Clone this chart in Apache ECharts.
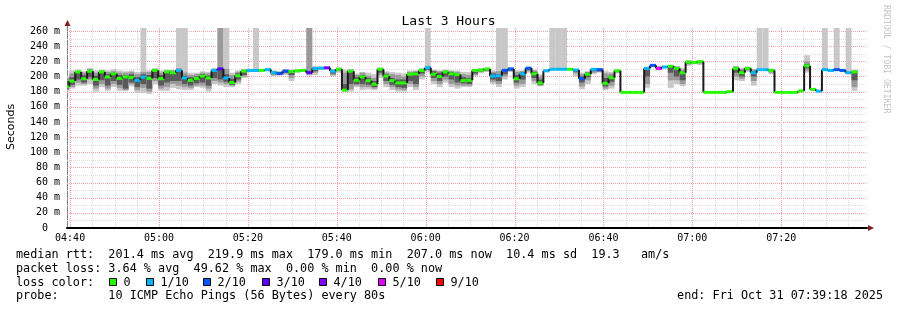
<!DOCTYPE html>
<html><head><meta charset="utf-8">
<script src="https://cdn.jsdelivr.net/npm/echarts@6/dist/echarts.min.js"></script>
<style>html,body{margin:0;padding:0;background:#fff}#c{width:897px;height:310px}</style>
</head><body><div id="c"></div>
<script>
// ---- axis (minutes relative to 04:40) ----
const xMin = -0.7;            // 04:39:18
const xMax = 179.3;           // 07:39:18
const firstStepBoundary = -0.18; // first full 80 s step starts here
const stepMinutes = 80 / 60;
const xLabelValues = [0, 20, 40, 60, 80, 100, 120, 140, 160];
const xLabelTexts = ['04:40', '05:00', '05:20', '05:40', '06:00', '06:20', '06:40', '07:00', '07:20'];
const xMinorGrid = [5,10,15,25,30,35,45,50,55,65,70,75,85,90,95,105,110,115,125,130,135,145,150,155,165,170,175];
const yMajorGrid = [20,40,60,80,100,120,140,160,180,200,220,240,260];
const yMinorGrid = [10,30,50,70,90,110,130,150,170,190,210,230,250];
const yMax = 264;

// ---- median RTT per 80 s step (ms) ----
const median = [
 187,194,206,197,207,196,206,199.5,203.5,197.5,
 199.5,198.5,195,199,197.5,208,197,206,205,208,
 198,195,197.5,200.5,198,208,210,198,192,201,
 207,208,208,208,209,205,204,207,206.5,207.5,
 208,205,210.5,211,211.5,207,209.5,182,207,195,
 199.5,194.5,190,209.5,200.5,194.5,191.5,191.5,203,203.5,
 208,211.5,203,200,206,203.5,202.5,194.5,195,208,
 208.5,210,200.5,201,208,210,197,203.5,211,203.5,
 191.5,207.5,209.5,209.5,209.5,209.5,208.6,197,203,209.4,
 209,191,198.4,207.6,179,179,179,179,210.7,214.7,
 210.7,212.5,213.5,210.7,205,219,218.5,219.6,179,179,
 179,179,180,210.7,205,210.7,205,209,209,208,
 179,179,179,179,181,214,183,180.6,209,208,
 209,208,205,206
];
// ---- lost pings out of 10 per step ----
const lossCount = [
 0,0,0,0,0,0,0,0,0,0,
 0,0,1,1,0,0,0,0,0,1,
 1,0,0,0,0,1,3,1,0,0,
 0,1,1,0,1,1,2,2,0,0,
 0,3,1,1,4,1,0,0,0,0,
 0,0,0,0,0,0,0,0,0,0,
 0,1,0,0,0,0,0,0,0,0,
 0,0,1,1,2,2,0,1,2,0,
 0,1,1,1,1,0,1,2,0,1,
 2,0,0,0,0,0,0,0,1,2,
 5,1,0,0,0,0,0,0,0,0,
 0,0,0,0,0,0,1,1,1,0,
 0,0,0,0,0,0,0,1,1,1,
 2,2,1,0
];
// ---- smoke: spread of the individual pings (ms) ----
const pingMin = [
 180,184,188,188,190,180,186,181,186,181,
 181,187,178,178,177,190,181,181,185,183,
 182,182,186,185,180,190,188,186,186,190,
 198,206,206,207,207,200,201,202,194,205,
 206,201,202,209,209,200,205,180,180,186,
 182,183,182,198,186,182,180,180,186,182,
 196,206,190,186,192,186,184,186,186,200,
 204,206,190,186,196,206,184,186,205,190,
 187,206,209,209,209,209,200,183,190,203,
 205,182,184,204,179,179,179,179,185,212,
 208,211,185,190,187,214,216,215,179,179,
 179,179,180,195,194,206,188,208,208,203,
 179,179,179,179,181,205,182,180.6,208,207,
 208,206,203,181
];
const pingLow = [
 182,186,192,190,196,184,190,184,190,185,
 182,190,182,185,180,194,184,186,190,188,
 186,185,188,188,184,194,192,190,188,193,
 200,207,207,207.5,208,202,202,204,198,206,
 207,203,205,210,210,202,207,181,183,188,
 186,186,184,202,190,186,183,182,190,186,
 200,208,194,190,196,190,188,188,188,202,
 206,207,193,190,200,207,188,190,207,194,
 188,206.5,209,209,209,209,204,187,195,205,
 206,184,188,205,179,179,179,179,190,213,
 209,211.5,195,195,190,216,217,217,179,179,
 179,179,180,200,197,208,194,208.5,208.5,205,
 179,179,179,179,181,208,182.5,180.6,208.5,207.5,
 208.5,207,204,186
];
const pingCoreLow = [
 184,189,196,192,199,188,195,188,194,189,
 184,192,186,190,184,198,188,192,194,194,
 190,188,191,192,188,198,196,193,189,196,
 202,207.5,207.5,208,208.5,203,203,205,202,207,
 207.5,204,207,210.5,211,204,208,182,190,190,
 190,189,186,205,194,189,186,185,194,190,
 204,209,198,194,200,196,192,191,190,204,
 207,208,196,194,203,208,192,196,209,198,
 189,207,209.5,209.5,209.5,209.5,206,192,199,207,
 207,187,193,206,179,179,179,179,200,214,
 210,212,205,200,195,217,218,218,179,179,
 179,179,180,205,200,209,200,209,209,206,
 179,179,179,179,181,211,183,180.6,209,208,
 209,207.5,204.5,195
];
const pingCoreHigh = [
 194,199,206,202,208,201,206,203,205,202,
 202,203,199,203,202,209,202,207,206,209,
 201,199,200,203,201,209,211,203,197,204,
 208,208.5,208.5,208,209.5,206,205,208,207,208,
 208.5,206,211,211.5,212,208,210,190,208,199,
 202,198,194,210,203,198,196,196,204,206,
 209,212,207,205,207,206,204,199,198,209,
 209,210.5,204,203,209,210.5,202,205,211.5,206,
 196,208,209.5,209.5,209.5,209.5,209,200,205,210,
 210,198,201,208,179,179,179,179,211,215,
 212,213,214,211,207,220,219,220,179,179,
 179,179,180,212,208,211,207,209.5,209.5,209,
 179,179,179,179,181,216,183.5,180.6,209.5,208.5,
 209.5,208.5,205.5,207
];
const pingHigh = [
 198,204,207,205,210,205,208,206,207,205,
 205,206,203,206,206,210,205,208,208,211,
 205,202,203,205,204,210,270,210,202,206,
 209,209,209,208.5,210,207,206,209,208,208.5,
 209,270,212,212,212.5,209,211,205,209,202,
 205,201,198,211,205,203,202,200,206,207,
 210,214,208,207,208,207,206,203,202,209.5,
 210,211,206,207,210,211,206,207,212,208,
 200,208.5,210,210,210,210,209.5,203,206,210.5,
 210.5,204,204,208.5,179,179,179,179,212,215.5,
 213,213.5,214.5,213,209,221,220,221,179,179,
 179,179,180,213,210,212,209,210,210,209.5,
 179,179,179,179,181,220,184,180.6,210,209,
 210,209,206,208
];
const pingMax = [
 200,208,209,207,211,208,209,208,210,208,
 207,208,206,270,208,211,208,209,209,270,
 270,205,205,207,206,211,270,270,205,208,
 210,210,270,209,211,208,207,210,209,209,
 210,270,214,213,213,210,212,209,210,204,
 206,205,203,212,207,206,205,204,208,208,
 211,270,209,208,209,208,208,206,206,210,
 211,211,208,270,270,212,208,208,212,209,
 203,209,270,270,270,210,210,205,207,211,
 211,207,206,209,179,179,179,179,212,216,
 214,214,215,214,211,221,221,221,179,179,
 179,179,180,214,211,213,210,270,270,210,
 179,179,179,179,181,228,184,180.6,270,209,
 270,209,270,209
];

const lossColors = {0:'#26ff00',1:'#00b8ff',2:'#0059ff',3:'#5e00ff',4:'#7e00ff',5:'#dd00ff',9:'#ff0000'};
const legendLoss = [['0',0],['1/10',1],['2/10',2],['3/10',3],['4/10',4],['5/10',5],['9/10',9]];

function stepStart(k){ return k === 0 ? xMin : firstStepBoundary + (k - 1) * stepMinutes; }
function stepEnd(k){ return Math.min(xMax, firstStepBoundary + k * stepMinutes); }

const smokeData = median.map((m, k) => [stepStart(k), stepEnd(k), pingMin[k], pingLow[k], pingCoreLow[k], pingCoreHigh[k], pingHigh[k], pingMax[k]]);
const medianData = median.map((m, k) => [stepStart(k), stepEnd(k), m, k > 0 ? median[k-1] : m, lossCount[k]]);

const chart = echarts.init(document.getElementById('c'), null, {renderer:'canvas'});
const MONO = '"DejaVu Sans Mono", monospace';

function clampY(y, cs){ return Math.max(cs.y, Math.min(cs.y + cs.height, y)); }

function renderGrid(params, api){
  const cs = params.coordSys;
  const ch = [];
  const top = cs.y, bot = cs.y + cs.height, left = cs.x, right = cs.x + cs.width;
  const vline = (v, col) => { const x = Math.round(api.coord([v, 0])[0]) + 0.5;
    ch.push({type:'line', shape:{x1:x, y1:top, x2:x, y2:bot}, style:{stroke:col, lineWidth:1, lineDash:[1,1]}}); };
  const hline = (v, col) => { const y = Math.round(api.coord([xMin, v])[1]) + 0.5;
    ch.push({type:'line', shape:{x1:left, y1:y, x2:right, y2:y}, style:{stroke:col, lineWidth:1, lineDash:[1,1]}}); };
  xMinorGrid.forEach(v => vline(v, '#dcdcdc'));
  yMinorGrid.forEach(v => hline(v, '#dcdcdc'));
  xLabelValues.forEach(v => vline(v, '#f0a0a0'));
  yMajorGrid.forEach(v => hline(v, '#f0a0a0'));
  return {type:'group', children: ch, silent:true};
}

function renderSmoke(params, api){
  const cs = params.coordSys;
  const t0 = api.value(0), t1 = api.value(1);
  const x0 = api.coord([t0, 0])[0], x1 = api.coord([t1, 0])[0];
  const band = (a, b, col) => {
    const ya = clampY(api.coord([t0, a])[1], cs), yb = clampY(api.coord([t0, b])[1], cs);
    if (Math.abs(ya - yb) < 0.01) return null;
    return {type:'rect', shape:{x:x0, y:Math.min(ya,yb), width:x1 - x0, height:Math.abs(ya - yb)}, style:{fill:col}};
  };
  const ch = [band(api.value(2), api.value(7), '#c8c8c8'), band(api.value(3), api.value(6), '#9a9a9a'), band(api.value(4), api.value(5), '#5a5a5a')].filter(Boolean);
  return {type:'group', children: ch};
}

function renderMedian(params, api){
  const t0 = api.value(0), t1 = api.value(1), m = api.value(2), prev = api.value(3), loss = api.value(4);
  const p0 = api.coord([t0, m]), p1 = api.coord([t1, m]), pp = api.coord([t0, prev]);
  const ch = [];
  if (prev !== m) ch.push({type:'line', shape:{x1:p0[0], y1:pp[1], x2:p0[0], y2:p0[1]}, style:{stroke:'#1a1a1a', lineWidth:2}});
  ch.push({type:'rect', shape:{x:p0[0], y:p0[1] - 1.5, width:p1[0] - p0[0], height:3}, style:{fill:lossColors[loss]}});
  return {type:'group', children: ch};
}

const G = {left:67, right:30, top:28, height:200};
const graphics = [];
const textStyle = (t, x, y, extra) => Object.assign({type:'text', x, y, style:{text:t, font:'11.8px ' + MONO, fill:'#000', textVerticalAlign:'middle'}}, extra || {});
graphics.push(textStyle('median rtt:  201.4 ms avg  219.9 ms max  179.0 ms min  207.0 ms now  10.4 ms sd  19.3   am/s', 16, 255));
graphics.push(textStyle('packet loss: 3.64 % avg  49.62 % max  0.00 % min  0.00 % now', 16, 268.5));
graphics.push(textStyle('loss color:', 16, 282.5));
graphics.push(textStyle('probe:       10 ICMP Echo Pings (56 Bytes) every 80s', 16, 296));
graphics.push({type:'text', x:883, y:296, style:{text:'end: Fri Oct 31 07:39:18 2025', font:'11.8px ' + MONO, fill:'#000', textAlign:'right', textVerticalAlign:'middle'}});
const sqX = [109, 146, 203, 262, 319, 378, 436];
legendLoss.forEach((e, i) => {
  graphics.push({type:'rect', shape:{x:sqX[i] + 0.5, y:278.5, width:7, height:7}, style:{fill:lossColors[e[1]], stroke:'#000', lineWidth:1}});
  graphics.push(textStyle(e[0], sqX[i] + 14.5, 282.5));
});
// y axis name
graphics.push({type:'text', x:11, y:127, rotation:Math.PI/2, style:{text:'Seconds', font:'11px "DejaVu Sans", sans-serif', fill:'#000', textAlign:'center', textVerticalAlign:'middle'}});
// watermark
graphics.push({type:'text', x:886, y:5, rotation:-Math.PI/2, style:{text:'RRDTOOL / TOBI OETIKER', font:'8.2px ' + MONO, fill:'#c4c4c4', textAlign:'left', textVerticalAlign:'middle'}});
// axis arrows
graphics.push({type:'line', shape:{x1:67.5, y1:228, x2:67.5, y2:24}, style:{stroke:'#808080', lineWidth:1}});
graphics.push({type:'polygon', shape:{points:[[64.5,26],[70.5,26],[67.5,20]]}, style:{fill:'#7f1f1f'}});
graphics.push({type:'polygon', shape:{points:[[868,225],[868,231],[874,228]]}, style:{fill:'#7f1f1f'}});

chart.setOption({
  animation:false,
  backgroundColor:'#ffffff',
  title:{text:'Last 3 Hours', left:'center', top:10, textStyle:{fontFamily:MONO, fontWeight:'normal', fontSize:13, color:'#000'}},
  grid:Object.assign({}, G),
  xAxis:{type:'value', min:xMin, max:xMax,
    axisLine:{show:true, onZero:false, lineStyle:{color:'#000', width:2}},
    axisTick:{show:false},
    splitLine:{show:false},
    axisLabel:{customValues:xLabelValues, fontFamily:MONO, fontSize:10, color:'#000', margin:5,
      formatter:(v) => { const i = xLabelValues.indexOf(Math.round(v)); return i >= 0 ? xLabelTexts[i] : ''; }}},
  yAxis:{type:'value', min:0, max:yMax, interval:20,
    axisLine:{show:false}, axisTick:{show:false}, splitLine:{show:false},
    axisLabel:{fontFamily:MONO, fontSize:10, color:'#000', margin:7, showMaxLabel:false,
      formatter:(v) => (v % 20 !== 0 ? '' : (v === 0 ? '0  ' : v + ' m'))}},
  graphic:graphics,
  series:[
    {type:'custom', name:'grid', data:[[0,0]], renderItem:renderGrid, z:1, silent:true},
    {type:'custom', name:'smoke', data:smokeData, renderItem:renderSmoke, z:2, silent:true,
      encode:{x:[0,1], y:[2,7]}},
    {type:'custom', name:'median', data:medianData, renderItem:renderMedian, z:3, silent:true,
      encode:{x:[0,1], y:[2]}}
  ]
});
</script></body></html>
